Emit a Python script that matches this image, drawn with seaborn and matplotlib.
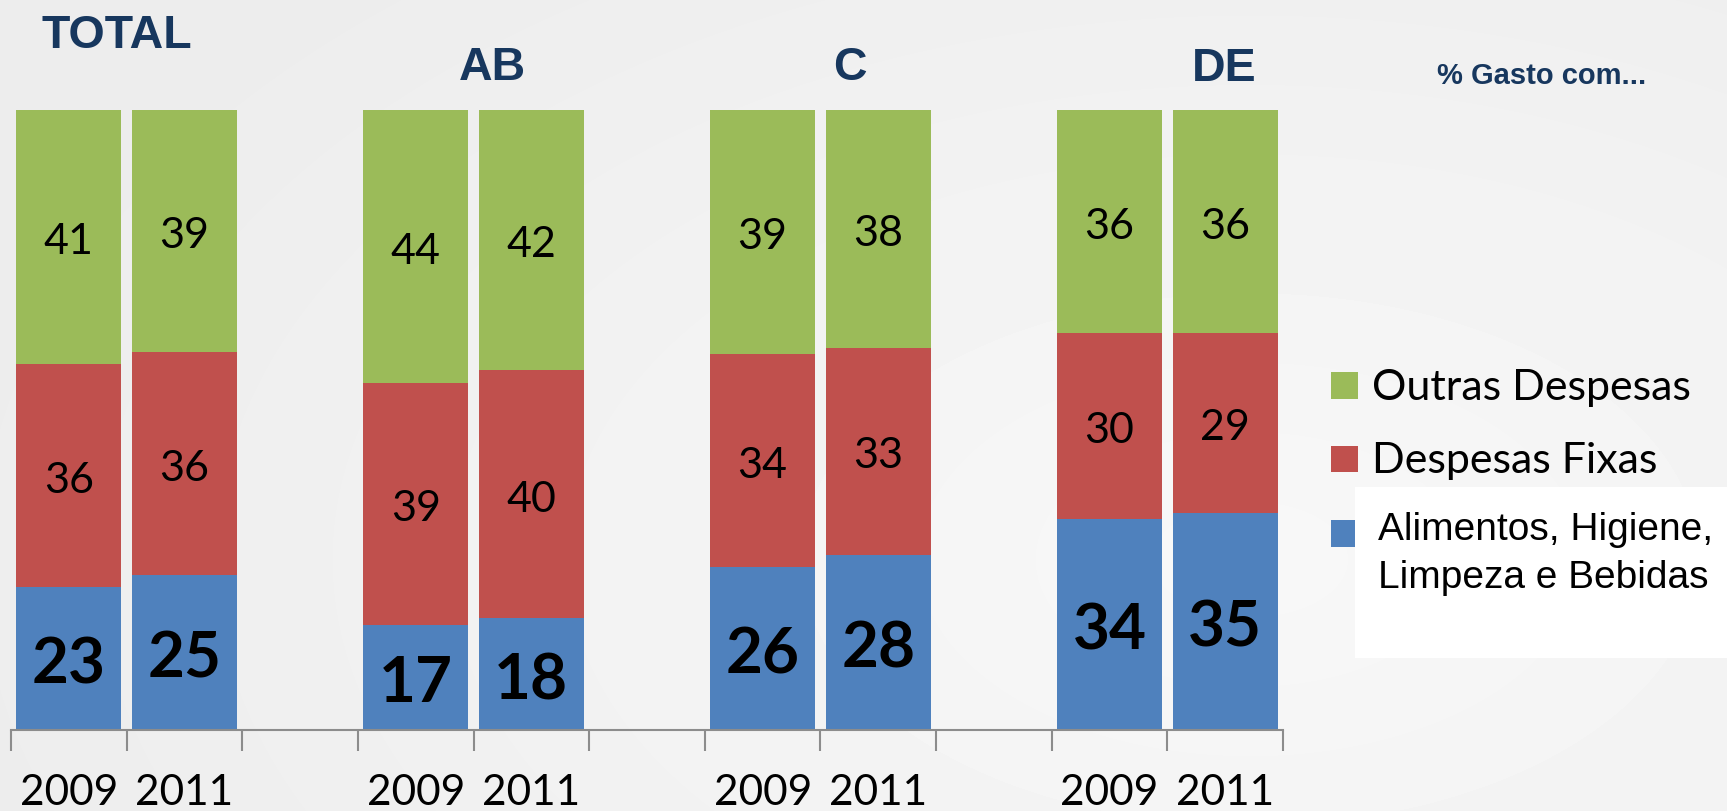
import numpy as np
import pandas as pd
import matplotlib
matplotlib.use("Agg")
import matplotlib.pyplot as plt
import seaborn as sns
from matplotlib.patches import Rectangle

# ---------------- data ----------------
groups = ["TOTAL", "AB", "C", "DE"]
years = ["2009", "2011"]
alimentos = [23, 25, 17, 18, 26, 28, 34, 35]   # Alimentos, Higiene, Limpeza e Bebidas
fixas = [36, 36, 39, 40, 34, 33, 30, 29]       # Despesas Fixas
outras = [41, 39, 44, 42, 39, 38, 36, 36]      # Outras Despesas
legend_labels = ["Outras Despesas", "Despesas Fixas",
                 "Alimentos, Higiene,\nLimpeza e Bebidas"]
subtitle = "% Gasto com..."

C_BLUE, C_RED, C_GREEN = "#4F81BD", "#C0504D", "#9BBB59"
NAVY = "#17375E"

sns.set_theme(style="white")
plt.rcParams['font.family'] = ['Lato', 'DejaVu Sans']

W, H = 1727, 812
fig = plt.figure(figsize=(W / 100, H / 100), dpi=100)
fig.patch.set_facecolor('#efefef')

# subtle radial background
bg = fig.add_axes([0, 0, 1, 1], zorder=-10)
yy, xx = np.mgrid[0:H, 0:W]
r = np.sqrt(((xx - 1250) / 1350) ** 2 + ((yy - 560) / 800) ** 2)
img = 0.972 - 0.045 * np.clip(r, 0, 1)
bg.imshow(img, cmap='gray', vmin=0, vmax=1, aspect='auto', interpolation='bilinear')
bg.set_axis_off()

# ---------------- data frame ----------------
pos, grp, yr = [], [], []
for gi, g in enumerate(groups):
    for yi, y in enumerate(years):
        pos.append(3 * gi + yi)
        grp.append(g)
        yr.append(y)
df = pd.DataFrame({"pos": pos, "group": grp, "year": yr,
                   "alim": alimentos, "fix": fixas, "out": outras})
df["tot"] = df["alim"] + df["fix"] + df["out"]
df["p_alim"] = df["alim"] / df["tot"] * 100
df["p_fix"] = df["fix"] / df["tot"] * 100
df["p_out"] = df["out"] / df["tot"] * 100
df["c1"] = df["p_alim"]
df["c2"] = df["p_alim"] + df["p_fix"]
df["c3"] = df["c2"] + df["p_out"]

# ---------------- main axes ----------------
ax = fig.add_axes([11 / W, (H - 731) / H, 1272 / W, 620 / H])
ax.patch.set_alpha(0)

for col, c in [("c3", C_GREEN), ("c2", C_RED), ("c1", C_BLUE)]:
    sns.barplot(data=df, x="pos", y=col, native_scale=True, color=c,
                saturation=1, width=0.91, errorbar=None, linewidth=0,
                ax=ax)

ax.set_xlim(-0.5, 10.5)
ax.set_ylim(0, 100)
ax.set_xlabel("")
ax.set_ylabel("")
ax.set_yticks([])
ax.set_xticks(df["pos"])
ax.set_xticklabels(df["year"], fontsize=30.5, color="black")
ax.set_xticks(np.arange(-0.5, 11, 1), minor=True)
ax.tick_params(axis='x', which='major', length=0, pad=31)
ax.tick_params(axis='x', which='minor', length=15, width=1.5, color="#8c8c8c",
               direction='out', bottom=True)
for s in ["left", "top", "right"]:
    ax.spines[s].set_visible(False)
ax.spines["bottom"].set_color("#8c8c8c")
ax.spines["bottom"].set_linewidth(1.5)

# value labels
for _, row in df.iterrows():
    ax.annotate(f"{row['alim']}", (row["pos"], row["c1"] / 2), xytext=(0, -4),
                textcoords='offset points', ha='center', va='center',
                fontsize=46, fontweight='bold', color='black')
    ax.annotate(f"{row['fix']}", (row["pos"], (row["c1"] + row["c2"]) / 2),
                xytext=(0, -3), textcoords='offset points', ha='center',
                va='center', fontsize=31, color='black')
    ax.annotate(f"{row['out']}", (row["pos"], (row["c2"] + row["c3"]) / 2),
                xytext=(0, -3), textcoords='offset points', ha='center',
                va='center', fontsize=31, color='black')

# group titles (pixel positions: center x, baseline y)
title_pos = {"TOTAL": (117, 48), "AB": (492, 80), "C": (850, 80), "DE": (1224, 81)}
for g in groups:
    x, yb = title_pos[g]
    fig.text(x / W, 1 - yb / H, g, ha='center', va='baseline', fontsize=33.5,
             fontweight='bold', color=NAVY, family=['Liberation Sans', 'DejaVu Sans'])

fig.text(1437 / W, 1 - 84 / H, subtitle, ha='left', va='baseline', fontsize=21,
         fontweight='bold', color=NAVY, family=['Liberation Sans', 'DejaVu Sans'])

# ---------------- legend ----------------
def px_rect(x0, y0, x1, y1, color, z):
    fig.add_artist(Rectangle((x0 / W, 1 - y1 / H), (x1 - x0) / W, (y1 - y0) / H,
                             transform=fig.transFigure, facecolor=color,
                             edgecolor='none', zorder=z))

px_rect(1331, 373, 1358, 400, C_GREEN, 5)
px_rect(1331, 447, 1358, 473, C_RED, 5)
px_rect(1331, 521, 1358, 548, C_BLUE, 5)
px_rect(1355, 488, 1727, 659, "white", 6)

fig.text(1372 / W, 1 - 400 / H, legend_labels[0], ha='left', va='baseline',
         fontsize=31, color='black', zorder=7)
fig.text(1372 / W, 1 - 473 / H, legend_labels[1], ha='left', va='baseline',
         fontsize=31, color='black', zorder=7)
fig.text(1378 / W, 1 - 540 / H, legend_labels[2].split("\n")[0], ha='left',
         va='baseline', fontsize=28, color='black', zorder=7,
         family=['Liberation Sans', 'DejaVu Sans'])
fig.text(1378 / W, 1 - 588 / H, legend_labels[2].split("\n")[1], ha='left',
         va='baseline', fontsize=28, color='black', zorder=7,
         family=['Liberation Sans', 'DejaVu Sans'])

fig.savefig("out.png", dpi=100, facecolor=fig.get_facecolor())
